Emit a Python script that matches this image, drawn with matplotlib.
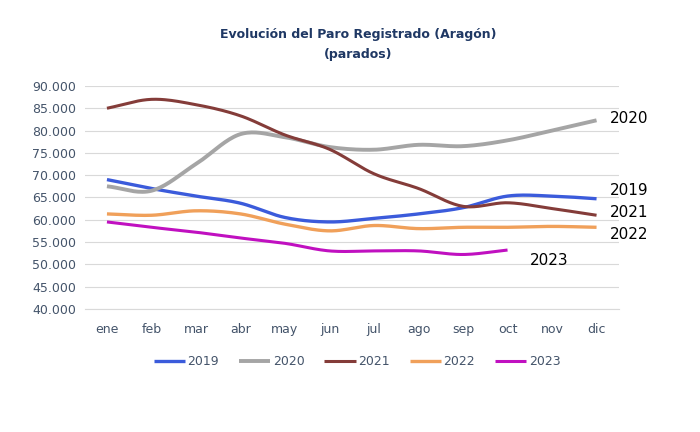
import numpy as np
import matplotlib.pyplot as plt
from matplotlib.ticker import FuncFormatter

months = ['ene', 'feb', 'mar', 'abr', 'may', 'jun', 'jul', 'ago', 'sep', 'oct', 'nov', 'dic']

p2019 = [69000, 67000, 65300, 63700, 60500, 59500, 60300, 61300, 62700, 65300, 65300, 64700]
p2020 = [67500, 66500, 72500, 79200, 78500, 76300, 75700, 76800, 76500, 77800, 80000, 82300]
p2021 = [85000, 87000, 85800, 83300, 79000, 75800, 70300, 67000, 63000, 63800, 62500, 61000]
p2022 = [61300, 61000, 62000, 61300, 59000, 57500, 58700, 58000, 58300, 58300, 58500, 58300]
p2023 = [59500, 58300, 57200, 55900, 54700, 53000, 53000, 53000, 52200, 53200]

series = [
    ('2019', p2019, '#3b5bdb', 2.4),
    ('2020', p2020, '#a5a5a5', 2.8),
    ('2021', p2021, '#843c39', 2.2),
    ('2022', p2022, '#f0a05a', 2.4),
    ('2023', p2023, '#c010c0', 2.2),
]


def smooth(y, n=20):
    # Catmull-Rom through the points, like Excel's smoothed line
    y = np.asarray(y, float)
    p = np.concatenate([[2 * y[0] - y[1]], y, [2 * y[-1] - y[-2]]])
    xs, ys = [], []
    t = np.linspace(0, 1, n, endpoint=False)
    for i in range(1, len(p) - 2):
        p0, p1, p2, p3 = p[i - 1], p[i], p[i + 1], p[i + 2]
        v = 0.5 * ((2 * p1) + (-p0 + p2) * t + (2 * p0 - 5 * p1 + 4 * p2 - p3) * t ** 2
                   + (-p0 + 3 * p1 - 3 * p2 + p3) * t ** 3)
        xs.extend(i - 1 + t)
        ys.extend(v)
    xs.append(len(y) - 1)
    ys.append(y[-1])
    return np.array(xs), np.array(ys)


fig = plt.figure(figsize=(7, 4.32), dpi=100)
ax = fig.add_axes([0.121, 0.285, 0.763, 0.516])

for name, vals, color, lw in series:
    xs, ys = smooth(vals)
    ax.plot(xs, ys, color=color, lw=lw, label=name, solid_capstyle='butt')

ax.set_xlim(-0.5, 11.5)
ax.set_ylim(40000, 90000)
ax.set_yticks(np.arange(40000, 90001, 5000))
ax.yaxis.set_major_formatter(FuncFormatter(lambda v, p: f'{int(v):,}'.replace(',', '.')))
ax.set_xticks(range(12))
ax.set_xticklabels(months)
ax.grid(axis='y', color='#d9d9d9', lw=0.8)
ax.set_axisbelow(True)
for s in ['top', 'right', 'left']:
    ax.spines[s].set_visible(False)
ax.spines['bottom'].set_color('#d9d9d9')
ax.tick_params(axis='both', length=0, labelsize=9, colors='#44546a')
ax.tick_params(axis='x', pad=10)
ax.tick_params(axis='y', pad=6)

# end labels
ax.text(11.3, p2020[-1] + 500, '2020', fontsize=11, va='center')
ax.text(11.3, p2019[-1] + 1800, '2019', fontsize=11, va='center')
ax.text(11.3, p2021[-1] + 550, '2021', fontsize=11, va='center')
ax.text(11.3, p2022[-1] - 1700, '2022', fontsize=11, va='center')
ax.text(9.5, p2023[-1] - 2400, '2023', fontsize=11, va='center')

fig.text(0.512, 0.896, 'Evolución del Paro Registrado (Aragón)\n(parados)', ha='center', va='center',
         fontsize=9, fontweight='bold', color='#1f3864', linespacing=1.7)

fig.legend(loc='center', bbox_to_anchor=(0.51, 0.163), ncol=5, frameon=False, fontsize=9,
           handlelength=2.5, handletextpad=0.2, columnspacing=1.6, labelcolor='#44546a')

fig.savefig('out.png', dpi=100)
